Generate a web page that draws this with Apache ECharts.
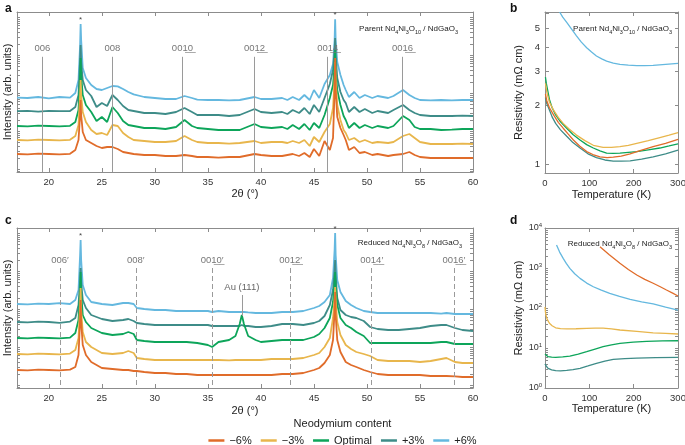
<!DOCTYPE html>
<html>
<head>
<meta charset="utf-8">
<script src="https://cdn.jsdelivr.net/npm/echarts/dist/echarts.min.js"></script>
<style>html,body{margin:0;padding:0;background:#fff}#chart{width:685px;height:445px}</style>
</head>
<body>
<div id="chart"></div>
<script>
// ---------- data ----------
const seriesNames = ['\u22126%', '\u22123%', 'Optimal', '+3%', '+6%'];
const seriesColors = ['#E06C2A', '#E8B64C', '#0DA55A', '#3E8C88', '#64B8DF'];

// Panel a: parent XRD, 2theta (deg) and log10 intensity (arb. units)
const twoThetaA = [17,18,19,20,21,22,22.5,22.8,22.95,23,23.05,23.2,23.5,24,24.5,25,25.5,26,26.5,27,27.5,28,29,30,31,32,32.8,33.5,34,35,36,37,38,39.4,40,41,42,42.5,43,43.6,44.1,44.6,45,45.5,46,46.5,46.8,46.95,47,47.05,47.2,47.5,47.8,48,48.3,48.8,49.3,49.8,50.5,51,52,52.5,53.4,54,54.5,55,56,57,58,59,60];
const parentM6 = [0.45,0.44,0.46,0.45,0.44,0.455, 0.55,0.8,1.425,1.8,1.425,1.0,0.8, 0.725,0.65,0.6,0.625,0.625,0.575,0.5,0.475,0.45, 0.425,0.425,0.4,0.4,0.425,0.4,0.375,0.375,0.36,0.375,0.375, 0.45,0.425,0.4,0.4,0.425,0.45,0.4,0.475,0.375,0.575,0.4, 0.775,0.55,0.85,2.05,2.85,2.05,1.375,1.1,0.925,0.8,0.55,0.625,0.475,0.5, 0.425,0.45,0.4,0.425,0.45,0.5,0.425,0.375,0.35,0.35,0.35,0.35,0.35];
const parentM3 = [0.8,0.79,0.81,0.8,0.79,0.805, 0.9,1.175,1.925,2.3,1.925,1.5,1.25, 1.05,0.95,0.975,0.925,1.175,1.15,0.975,0.875,0.8, 0.775,0.75,0.75,0.775,0.9,0.8,0.75,0.725,0.725,0.71,0.725, 0.775,0.725,0.75,0.75,0.725,0.775,0.725,0.8,0.65,0.875,0.75, 1.0,1.2,1.6,2.3,2.75,2.3,1.675,1.3,1.05,0.975,0.8,0.85,0.75,0.8, 0.725,0.75,0.725,0.75,0.9,0.95,0.85,0.75,0.7,0.7,0.7,0.71,0.7];
const parentOpt = [1.15,1.14,1.16,1.15,1.14,1.155, 1.25,1.55,2.425,2.85,2.425,1.925,1.675, 1.5,1.275,1.375,1.25,1.625,1.475,1.275,1.175,1.15, 1.1,1.1,1.075,1.125,1.3,1.15,1.1,1.075,1.05,1.05,1.05, 1.2,1.125,1.1,1.125,1.075,1.175,1.075,1.2,1.05,1.225,1.1, 1.425,1.85,2.175,2.675,3.05,2.55,2.05,1.675,1.4,1.3,1.1,1.225,1.1,1.175, 1.1,1.15,1.1,1.15,1.4,1.3,1.125,1.075,1.075,1.05,1.06,1.075,1.075];
const parentP3 = [1.52,1.53,1.51,1.53,1.52,1.525, 1.625,1.925,2.8,3.175,2.75,2.3,2.05, 1.9,1.625,1.725,1.65,1.925,1.8,1.65,1.55,1.525, 1.475,1.475,1.45,1.5,1.6,1.5,1.425,1.425,1.425,1.4,1.425, 1.575,1.5,1.475,1.5,1.45,1.55,1.475,1.6,1.45,1.675,1.5, 1.85,2.2,2.55,3.05,3.35,2.925,2.35,2.0,1.8,1.725,1.5,1.625,1.5,1.575, 1.475,1.525,1.475,1.55,1.675,1.55,1.475,1.425,1.4,1.4,1.4,1.41,1.4];
const parentP6 = [1.86,1.85,1.875,1.84,1.875,1.86, 1.975,2.3,3.175,3.7,3.3,2.6,2.35, 2.175,2.075,2.05,2.1,2.15,2.14,2.075,2.0,1.94, 1.875,1.85,1.825,1.825,1.9,1.85,1.81,1.8,1.8,1.79,1.8, 1.875,1.825,1.825,1.85,1.8,1.875,1.8,1.925,1.8,2.05,1.85, 2.2,2.425,2.7,3.3,3.82,3.3,2.75,2.425,2.175,2.05,1.875,2.0,1.85,1.925, 1.85,1.9,1.85,1.9,2.05,1.925,1.85,1.8,1.79,1.8,1.79,1.8,1.8];

// Panel c: reduced XRD
const twoThetaC = [17,18,19,20,21,22,22.5,22.8,22.95,23,23.05,23.2,23.5,24,25,26,27,27.5,28,28.3,29,30,31,32,33,34,35,35.4,36,37,37.6,38,38.2,38.4,38.8,39.5,40,41,42,43,44,45,45.5,46,46.5,46.8,46.95,47,47.05,47.2,47.5,48,48.5,49,49.7,50.3,51,52,53,54,55,56,57,57.5,58.3,59,60];
const reducedM6 = [0.45,0.44,0.46,0.45,0.44,0.46, 0.525,0.825,1.7,2.2,1.65,1.075,0.825, 0.65,0.5,0.475,0.45,0.45,0.425,0.425, 0.4,0.375,0.375,0.35,0.35,0.325,0.325,0.325, 0.325,0.325,0.325,0.325,0.325,0.325,0.325,0.325, 0.325,0.325,0.35,0.35,0.375,0.45,0.5, 0.625,0.825,1.2,1.95,2.4,1.825,1.2,0.9, 0.65,0.575,0.525,0.45,0.4, 0.35,0.325,0.325,0.325,0.325,0.3,0.3,0.3,0.29,0.275,0.275];
const reducedM3 = [0.85,0.84,0.86,0.85,0.84,0.86, 0.95,1.25,2.075,2.5,1.95,1.4,1.15, 1.025,0.875,0.85,0.875,0.925,0.875,0.75, 0.725,0.7,0.7,0.7,0.7,0.7,0.7,0.7, 0.7,0.69,0.7,0.7,0.7,0.7,0.7,0.7, 0.7,0.725,0.725,0.725,0.75,0.825,0.875, 1.025,1.25,1.75,2.25,2.525,2.2,1.65,1.325, 1.075,0.975,0.9,0.85,0.8, 0.7,0.675,0.675,0.675,0.65,0.675,0.725,0.75,0.65,0.625,0.625];
const reducedOpt = [1.25,1.24,1.26,1.25,1.24,1.26, 1.375,1.7,2.45,2.9,2.4,1.825,1.65, 1.5,1.375,1.325,1.35,1.4,1.35,1.2, 1.175,1.15,1.15,1.15,1.15,1.125,1.075,1.025, 1.15,1.2,1.3,1.6,1.825,1.6,1.3,1.2, 1.15,1.175,1.2,1.2,1.2,1.275,1.35, 1.5,1.75,2.15,2.65,2.9,2.575,2.075,1.75, 1.575,1.5,1.4,1.3,1.125, 1.125,1.125,1.125,1.125,1.125,1.125,1.15,1.15,1.1,1.1,1.1];
const reducedP3 = [1.65,1.64,1.66,1.65,1.63,1.66, 1.75,2.075,2.7,3.0,2.65,2.2,2.0, 1.825,1.725,1.675,1.7,1.725,1.675,1.625, 1.6,1.575,1.575,1.575,1.575,1.575,1.575,1.55, 1.55,1.55,1.55,1.55,1.575,1.55,1.55,1.525, 1.525,1.55,1.6,1.6,1.575,1.625,1.675, 1.8,2.075,2.45,2.95,3.2,2.825,2.25,1.95, 1.825,1.775,1.75,1.675,1.525, 1.475,1.45,1.45,1.475,1.5,1.55,1.575,1.575,1.5,1.45,1.425];
const reducedP6 = [2.1,2.09,2.11,2.1,2.12,2.1, 2.2,2.45,3.325,3.7,3.2,2.575,2.325, 2.15,2.1,2.075,2.125,2.125,2.1,2.0, 1.975,1.95,1.95,1.925,1.925,1.925,1.925,1.9, 1.925,1.9,1.9,1.9,1.9,1.9,1.89,1.875, 1.875,1.875,1.9,1.9,1.925,2.0,2.05, 2.15,2.325,2.75,3.45,3.875,3.325,2.7,2.4, 2.175,2.075,2.0,1.925,1.9, 1.875,1.875,1.875,1.875,1.875,1.875,1.86,1.875,1.85,1.85,1.85];

// reflections
const parentPeakLabels = ['006', '008', '001\u03320\u0332', '001\u03322\u0332', '001\u03324\u0332', '001\u03326\u0332'];
const parentPeakPos = [19.4, 26.0, 32.6, 39.4, 46.3, 53.35];
const reducedPeakLabels = ['006\u2032', '008\u2032', '001\u03320\u0332\u2032', '001\u03322\u0332\u2032', '001\u03324\u0332\u2032', '001\u03326\u0332\u2032'];
const reducedPeakPos = [21.05, 28.2, 35.4, 42.8, 50.45, 58.2];
const auLabel = 'Au (111)';
const auPos = 38.2;
const substratePeaks = [23.0, 47.0];

// Panel b: parent resistivity [T (K), rho (mOhm cm)]
const parentRhoM6 = [[1,2.3],[4,2.12],[10,1.95],[20,1.78],[30,1.64],[41,1.53],[52,1.43],[64,1.33],[78,1.24],[94,1.16],[108,1.12],[124,1.09],[140,1.08],[154,1.085],[172,1.1],[192,1.13],[218,1.18],[244,1.23],[272,1.28],[300,1.34]];
const parentRhoM3 = [[1,2.6],[4,2.35],[10,2.08],[19,1.9],[30,1.74],[41,1.62],[55,1.51],[71,1.41],[90,1.32],[109,1.25],[131,1.22],[150,1.22],[169,1.23],[188,1.25],[207,1.28],[233,1.32],[259,1.37],[280,1.41],[300,1.45]];
const parentRhoOpt = [[1,2.8],[3,2.6],[6,2.4],[10,2.15],[16,1.95],[24,1.79],[35,1.65],[49,1.53],[63,1.42],[79,1.33],[94,1.26],[109,1.21],[124,1.17],[139,1.14],[154,1.135],[169,1.14],[188,1.15],[207,1.16],[233,1.185],[259,1.21],[280,1.24],[300,1.27]];
const parentRhoP3 = [[1,2.2],[4,2.05],[10,1.9],[16,1.75],[24,1.62],[35,1.5],[49,1.39],[63,1.29],[79,1.21],[97,1.13],[116,1.08],[135,1.05],[154,1.036],[172,1.035],[192,1.04],[218,1.06],[244,1.09],[272,1.13],[300,1.18]];
const parentRhoP6 = [[33,6.06],[40,5.7],[49,5.36],[60,4.95],[71,4.57],[82,4.24],[94,3.97],[105,3.77],[116,3.6],[128,3.48],[139,3.39],[154,3.31],[169,3.26],[188,3.23],[207,3.21],[225,3.21],[244,3.22],[272,3.26],[300,3.30]];

// Panel d: reduced resistivity
const reducedRhoM6 = [[124,3400],[145,2150],[169,1310],[188,920],[207,668],[225,520],[244,415],[260,340],[274,282],[288,235],[300,200]];
const reducedRhoM3 = [[0,107],[1,80],[2,67],[5,52],[10,41.5],[16,36],[24,32],[35,30.5],[49,30],[70,30.3],[94,31],[113,31.5],[131,31.5],[150,30],[169,28.2],[207,26],[244,24],[272,23.2],[300,22.4]];
const reducedRhoOpt = [[0,7.1],[3,6.5],[7,6.05],[15,5.9],[24,5.85],[40,6.0],[56,6.3],[75,7.0],[94,8.1],[113,9.4],[131,10.8],[150,12.0],[169,13.1],[199,14.1],[229,14.7],[265,15.0],[300,15.2]];
const reducedRhoP3 = [[0,4.0],[3,3.5],[7,3.1],[15,2.85],[24,2.71],[35,2.68],[49,2.75],[63,2.88],[79,3.1],[97,3.55],[116,4.14],[135,4.7],[154,5.2],[180,5.45],[207,5.6],[250,5.75],[300,5.85]];
const reducedRhoP6 = [[26,3760],[33,2500],[41,1740],[48,1300],[56,980],[67,720],[79,550],[94,420],[109,340],[127,280],[146,233],[168,195],[192,165],[218,143],[244,126],[272,105],[300,89]];

// ticks
const xrdTicks = [20, 25, 30, 35, 40, 45, 50, 55, 60];
const tempTicks = [0, 100, 200, 300];
const rhoTicksB = [1, 2, 3, 4, 5];
const rhoDecadesD = [0, 1, 2, 3, 4];

// ---------- build ----------
const FONT = '"Liberation Sans", Arial, Helvetica, sans-serif';
const AX = '#8c8c8c';

function logTickValues(first, step, lo, hi) {
  const out = [];
  for (let k = -2; k < 10; k++) {
    const base = first + k * step;
    for (let m = 1; m <= 9; m++) {
      const v = base + step * Math.log10(m);
      if (v >= lo - 1e-9 && v <= hi + 1e-9) out.push(+v.toFixed(4));
    }
  }
  return out;
}

function makeX(grid, min, max, ticks, pos, withLabels, name, nameGap) {
  return {
    type: 'value', gridIndex: grid, position: pos, min: min, max: max,
    name: name || '', nameLocation: 'middle', nameGap: nameGap || 0,
    nameTextStyle: { fontFamily: FONT, fontSize: 11, color: '#222' },
    axisLine: { show: true, onZero: false, lineStyle: { color: AX, width: 1 } },
    axisTick: { show: true, inside: true, length: 4, customValues: ticks, lineStyle: { color: AX } },
    axisLabel: { show: withLabels, customValues: ticks, fontFamily: FONT, fontSize: 9.5, color: '#333', margin: 5 },
    splitLine: { show: false }
  };
}
function makeY(grid, min, max, ticks, pos, labelOpt, name, nameGap, tickLen) {
  const ax = {
    type: 'value', gridIndex: grid, position: pos, min: min, max: max,
    name: name || '', nameLocation: 'middle', nameGap: nameGap || 0, nameRotate: 90,
    nameTextStyle: { fontFamily: FONT, fontSize: 11, color: '#222' },
    axisLine: { show: true, onZero: false, lineStyle: { color: AX, width: 1 } },
    axisTick: { show: true, inside: true, length: tickLen || 3, customValues: ticks, lineStyle: { color: AX } },
    axisLabel: { show: false },
    splitLine: { show: false }
  };
  if (labelOpt) ax.axisLabel = Object.assign({ show: true, fontFamily: FONT, fontSize: 9.5, color: '#333', margin: 5 }, labelOpt);
  return ax;
}

const xrdTickVals = logTickValues(0.07, 0.95, 0, 4);
const rhoBMin = Math.log10(0.9), rhoBMax = Math.log10(6.06);
const rhoBTickVals = [0.9, 1, 2, 3, 4, 5, 6].map(Math.log10);
const rhoDTickVals = logTickValues(0, 1, 0, 4);

const xAxis = [
  makeX(0, 17, 60, xrdTicks, 'bottom', true, '2\u03b8 (\u00b0)', 16),
  makeX(0, 17, 60, xrdTicks, 'top', false),
  makeX(1, 0, 300, tempTicks, 'bottom', true, 'Temperature (K)', 16),
  makeX(1, 0, 300, tempTicks, 'top', false),
  makeX(2, 17, 60, xrdTicks, 'bottom', true, '2\u03b8 (\u00b0)', 17),
  makeX(2, 17, 60, xrdTicks, 'top', false),
  makeX(3, 0, 300, tempTicks, 'bottom', true, 'Temperature (K)', 15),
  makeX(3, 0, 300, tempTicks, 'top', false)
];
const yAxis = [
  makeY(0, 0, 4, xrdTickVals, 'left', null, 'Intensity (arb. units)', 4),
  makeY(0, 0, 4, xrdTickVals, 'right', null),
  makeY(1, rhoBMin, rhoBMax, rhoBTickVals, 'left', { customValues: rhoTicksB.map(Math.log10), formatter: v => String(Math.round(Math.pow(10, v))) }, 'Resistivity (m\u03a9 cm)', 21, 4),
  makeY(1, rhoBMin, rhoBMax, rhoBTickVals, 'right', null),
  makeY(2, 0, 4, xrdTickVals, 'left', null, 'Intensity (arb. units)', 4),
  makeY(2, 0, 4, xrdTickVals, 'right', null),
  makeY(3, 0, 4, rhoDTickVals, 'left', {
    customValues: rhoDecadesD, margin: 3,
    formatter: v => '{b|10}{s|' + Math.round(v) + '}',
    rich: { b: { fontFamily: FONT, fontSize: 9, color: '#333', lineHeight: 12 }, s: { fontFamily: FONT, fontSize: 6, color: '#333', verticalAlign: 'top' } }
  }, 'Resistivity (m\u03a9 cm)', 21, 3),
  makeY(3, 0, 4, rhoDTickVals, 'right', null)
];

const series = [];
function addXrd(xi, xs, sets) {
  for (let i = sets.length - 1; i >= 0; i--) {
    series.push({
      type: 'line', name: seriesNames[i], xAxisIndex: xi, yAxisIndex: xi,
      data: xs.map((x, j) => [x, sets[i][j]]),
      symbol: 'none', showSymbol: false, silent: true, clip: true, z: 3,
      lineStyle: { color: seriesColors[i], width: 1.8 }, itemStyle: { color: seriesColors[i] }
    });
  }
}
function addRho(xi, sets, transform) {
  for (let i = sets.length - 1; i >= 0; i--) {
    series.push({
      type: 'line', name: seriesNames[i], xAxisIndex: xi, yAxisIndex: xi,
      data: sets[i].map(p => [p[0], transform(p[1])]),
      symbol: 'none', showSymbol: false, silent: true, clip: true, z: 3,
      smooth: false,
      lineStyle: { color: seriesColors[i], width: 1.3 }, itemStyle: { color: seriesColors[i] }
    });
  }
}
function refLines(xi, pos, labels, yTop, dashed) {
  series.push({
    type: 'line', xAxisIndex: xi, yAxisIndex: xi, data: [], z: 1, silent: true,
    markLine: {
      silent: true, symbol: ['none', 'none'], animation: false,
      lineStyle: { color: '#9a9a9a', width: 1, type: dashed ? [5, 3] : 'solid' },
      label: { show: true, position: 'start', distance: 3, formatter: '{b}', color: '#777', fontFamily: FONT, fontSize: 9.5 },
      emphasis: { disabled: true },
      data: pos.map((x, i) => [{ name: labels[i], coord: [x, yTop] }, { coord: [x, 0] }])
    }
  });
}
function asterisks(xi, pts) {
  series.push({
    type: 'scatter', xAxisIndex: xi, yAxisIndex: xi, data: pts, symbolSize: 1, z: 4, silent: true,
    itemStyle: { color: 'rgba(0,0,0,0)' },
    label: { show: true, position: 'top', distance: 0, formatter: '*', color: '#111', fontFamily: FONT, fontSize: 8 }
  });
}

addXrd(0, twoThetaA, [parentM6, parentM3, parentOpt, parentP3, parentP6]);
refLines(0, parentPeakPos, parentPeakLabels, 2.88, false);
asterisks(0, [[substratePeaks[0], 3.7], [substratePeaks[1], 3.82]]);

addRho(2, [parentRhoM6, parentRhoM3, parentRhoOpt, parentRhoP3, parentRhoP6], Math.log10);

addXrd(4, twoThetaC, [reducedM6, reducedM3, reducedOpt, reducedP3, reducedP6]);
refLines(4, reducedPeakPos, reducedPeakLabels, 3.0, true);
series.push({
  type: 'line', xAxisIndex: 4, yAxisIndex: 4, data: [], z: 1, silent: true,
  markLine: {
    silent: true, symbol: ['none', 'none'], animation: false,
    lineStyle: { color: '#9a9a9a', width: 1, type: 'solid' },
    label: { show: true, position: 'start', distance: 3, formatter: '{b}', color: '#666', fontFamily: FONT, fontSize: 9.5 },
    emphasis: { disabled: true },
    data: [[{ name: auLabel, coord: [auPos, 2.325] }, { coord: [auPos, 1.8] }]]
  }
});
asterisks(4, [[substratePeaks[0], 3.7], [substratePeaks[1], 3.875]]);

addRho(6, [reducedRhoM6, reducedRhoM3, reducedRhoOpt, reducedRhoP3, reducedRhoP6], Math.log10);

const subRich = {
  n: { fontFamily: FONT, fontSize: 8, fontWeight: 'normal', color: '#222', lineHeight: 13, verticalAlign: 'middle' },
  s: { fontFamily: FONT, fontSize: 5.5, fontWeight: 'normal', color: '#222', verticalAlign: 'bottom' }
};
const parentTitle = '{n|Parent Nd}{s|4}{n|Ni}{s|3}{n|O}{s|10}{n| / NdGaO}{s|3}';
const reducedTitle = '{n|Reduced Nd}{s|4}{n|Ni}{s|3}{n|O}{s|8}{n| / NdGaO}{s|3}';
const letterStyle = { fontFamily: FONT, fontSize: 12, fontWeight: 'bold', color: '#111' };
const subTitleStyle = { fontWeight: 'normal', fontSize: 8, rich: subRich };

const option = {
  animation: false,
  backgroundColor: '#fff',
  textStyle: { fontFamily: FONT },
  grid: [
    { left: 17, top: 12, width: 456, height: 160, outerBoundsMode: 'none' },
    { left: 545, top: 12, width: 133, height: 161, outerBoundsMode: 'none' },
    { left: 17, top: 228, width: 456, height: 160, outerBoundsMode: 'none' },
    { left: 545, top: 228, width: 133, height: 160, outerBoundsMode: 'none' }
  ],
  title: [
    { text: 'a', left: 0, top: -2, textStyle: letterStyle },
    { text: 'b', left: 505, top: -2, textStyle: letterStyle },
    { text: 'c', left: 0, top: 210, textStyle: letterStyle },
    { text: 'd', left: 505, top: 210, textStyle: letterStyle },
    { text: parentTitle, right: 222, top: 17, textStyle: subTitleStyle },
    { text: parentTitle, right: 8, top: 17, textStyle: subTitleStyle },
    { text: reducedTitle, right: 218, top: 231, textStyle: subTitleStyle },
    { text: reducedTitle, right: 8, top: 232, textStyle: subTitleStyle },
    { text: 'Neodymium content', left: 'center', top: 413, textStyle: { fontFamily: FONT, fontSize: 11, fontWeight: 'normal', color: '#222' } }
  ],
  legend: {
    data: seriesNames, left: 'center', top: 430, icon: 'rect', itemWidth: 16, itemHeight: 2.5, itemGap: 9,
    selectedMode: false, textStyle: { fontFamily: FONT, fontSize: 11, color: '#222' }
  },
  xAxis: xAxis,
  yAxis: yAxis,
  series: series
};

const chart = echarts.init(document.getElementById('chart'), null, { renderer: 'canvas' });
chart.setOption(option);
</script>
</body>
</html>
